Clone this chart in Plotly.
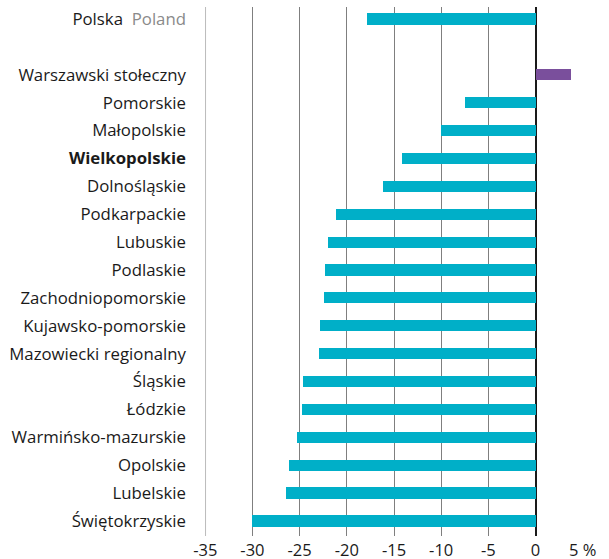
import plotly.graph_objects as go

categories = ["Polska", "", "Warszawski stołeczny", "Pomorskie", "Małopolskie", "Wielkopolskie",
              "Dolnośląskie", "Podkarpackie", "Lubuskie", "Podlaskie", "Zachodniopomorskie",
              "Kujawsko-pomorskie", "Mazowiecki regionalny", "Śląskie", "Łódzkie",
              "Warmińsko-mazurskie", "Opolskie", "Lubelskie", "Świętokrzyskie"]
values = [-17.9, None, 3.8, -7.5, -10.0, -14.1, -16.2, -21.1, -22.0, -22.3, -22.4,
          -22.8, -22.9, -24.6, -24.7, -25.3, -26.1, -26.4, -30.0]
tick_vals_x = [-35, -30, -25, -20, -15, -10, -5, 0, 5]
tick_text_x = ["-35", "-30", "-25", "-20", "-15", "-10", "-5", "0", "5 %"]

TEAL = "#00AFC8"
PURPLE = "#7A4F9C"

positions = list(range(len(categories)))
colors = [PURPLE if c == "Warszawski stołeczny" else TEAL for c in categories]

ytext = []
for c in categories:
    if c == "Polska":
        ytext.append("Polska  <span style='color:#8a8a8a'>Poland</span>")
    elif c == "Wielkopolskie":
        ytext.append("<b>Wielkopolskie</b>")
    else:
        ytext.append(c)

fig = go.Figure(go.Bar(
    x=values, y=positions, orientation="h",
    marker=dict(color=colors, line=dict(width=0)),
    width=0.4, hoverinfo="skip",
))

# left-edge gridline (lighter in the reference, clipped by plotly at the range edge)
fig.add_shape(type="line", xref="x", yref="paper", x0=tick_vals_x[0], x1=tick_vals_x[0],
              y0=0, y1=1, line=dict(color="#bdbdbd", width=1.5), layer="below")

fig.update_layout(
    width=609, height=559,
    margin=dict(l=205, r=26, t=7, b=23, autoexpand=False),
    paper_bgcolor="white", plot_bgcolor="white",
    font=dict(family="Open Sans, Noto Sans, sans-serif", size=16.8, color="#1a1a1a"),
    showlegend=False,
    bargap=0,
)
fig.update_xaxes(
    range=[-35.03, 5.03], tickvals=tick_vals_x, ticktext=tick_text_x,
    showgrid=True, gridcolor="#7f7f7f", gridwidth=1,
    zeroline=True, zerolinecolor="#1a1a1a", zerolinewidth=2,
    showline=False, ticks="", tickfont=dict(size=16.5),
    ticklabelstandoff=2, fixedrange=True, automargin=False,
)
fig.update_yaxes(
    range=[18.54, -0.43], tickvals=positions, ticktext=ytext,
    showgrid=False, zeroline=False, showline=False, ticks="",
    ticklabelstandoff=18, tickfont=dict(size=16.8), fixedrange=True, automargin=False,
)

fig.write_html(
    "out.html",
    config={"displayModeBar": False},
    post_script="document.body.style.margin='0';document.body.style.overflow='hidden';",
)
